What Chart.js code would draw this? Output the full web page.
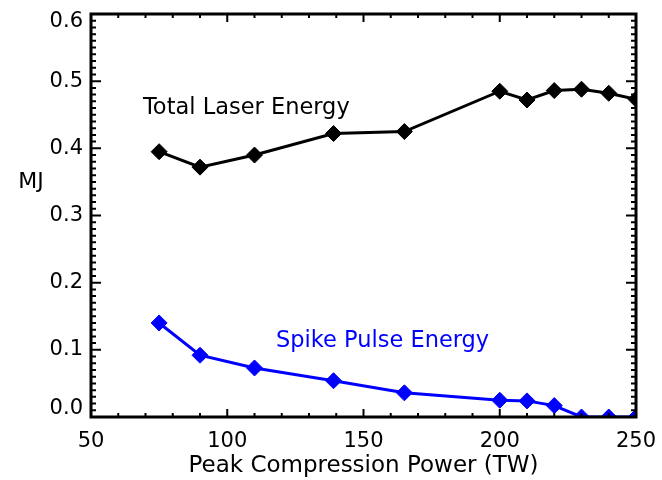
<!DOCTYPE html>
<html>
<head>
<meta charset="utf-8">
<script src="https://cdn.jsdelivr.net/npm/chart.js@4/dist/chart.umd.min.js"></script>
<style>
  html, body { margin: 0; padding: 0; background: #fff; }
  #wrap { width: 662px; height: 480px; }
</style>
</head>
<body>
<div id="wrap"><canvas id="energy-chart"></canvas></div>
<script>
// Peak compression power (TW) and energies (MJ)
const powerTW = [75, 90, 110, 139, 165, 200, 210, 220, 230, 240, 250];
const totalLaserMJ = [0.395, 0.372, 0.390, 0.422, 0.425, 0.485, 0.472, 0.486, 0.488, 0.482, 0.473];
const spikePulseMJ = [0.140, 0.092, 0.073, 0.054, 0.036, 0.025, 0.024, 0.017, 0.0, 0.0, 0.0];

const xTicks = [50, 100, 150, 200, 250];
const yTicks = [0.0, 0.1, 0.2, 0.3, 0.4, 0.5, 0.6];
const yTickLabels = ['0.0', '0.1', '0.2', '0.3', '0.4', '0.5', '0.6'];

const FONT = 'DejaVu Sans, Arial, sans-serif';

// text labels placed in data units
const seriesLabels = [
    { text: 'Total Laser Energy', x: 107, y: 0.46, color: '#000' },
    { text: 'Spike Pulse Energy', x: 157, y: 0.113, color: '#0000ff' }
];

// box frame with inward ticks on all four sides, y labels, and text labels
const frameAndTicks = {
    id: 'frameAndTicks',
    afterDatasetsDraw(chart) {
        const { ctx, chartArea: a } = chart;
        const xs = chart.scales.x, ys = chart.scales.y;
        ctx.save();
        ctx.strokeStyle = '#000';
        ctx.lineWidth = 2;
        ctx.beginPath();
        for (let v = xs.min; v <= xs.max; v += 10) {
            const px = xs.getPixelForValue(v);
            const len = v % 50 === 0 ? 8 : 4;
            ctx.moveTo(px, a.bottom); ctx.lineTo(px, a.bottom - len);
            ctx.moveTo(px, a.top); ctx.lineTo(px, a.top + len);
        }
        for (let i = 0; i <= 60; i++) {
            const py = ys.getPixelForValue(i / 100);
            const len = i % 10 === 0 ? 10 : 5;
            ctx.moveTo(a.left, py); ctx.lineTo(a.left + len, py);
            ctx.moveTo(a.right, py); ctx.lineTo(a.right - len, py);
        }
        ctx.stroke();

        ctx.lineWidth = 3;
        ctx.strokeRect(a.left, a.top, a.right - a.left, a.bottom - a.top);

        // y tick labels, end ones kept inside the axis range
        ctx.fillStyle = '#000';
        ctx.font = '21px ' + FONT;
        ctx.textAlign = 'right';
        ctx.textBaseline = 'middle';
        yTicks.forEach((v, i) => {
            let py = ys.getPixelForValue(v);
            py = Math.min(Math.max(py, a.top + 8), a.bottom - 8);
            ctx.fillText(yTickLabels[i], a.left - 8, py);
        });

        ctx.font = '22px ' + FONT;
        ctx.textAlign = 'center';
        ctx.fillText('MJ', a.left - 60, ys.getPixelForValue(0.35));

        ctx.font = '22.5px ' + FONT;
        seriesLabels.forEach(l => {
            ctx.fillStyle = l.color;
            ctx.fillText(l.text, xs.getPixelForValue(l.x), ys.getPixelForValue(l.y));
        });
        ctx.restore();
    }
};

const ctx = document.getElementById('energy-chart').getContext('2d');

window.energyChart = new Chart(ctx, {
    type: 'line',
    data: {
        datasets: [{
            label: 'Total Laser Energy',
            data: powerTW.map((p, i) => ({ x: p, y: totalLaserMJ[i] })),
            borderColor: '#000',
            backgroundColor: '#000',
            borderWidth: 3,
            pointStyle: 'rectRot',
            pointRadius: 8,
            pointBorderWidth: 1,
            tension: 0
        }, {
            label: 'Spike Pulse Energy',
            data: powerTW.map((p, i) => ({ x: p, y: spikePulseMJ[i] })),
            borderColor: '#0000ff',
            backgroundColor: '#0000ff',
            borderWidth: 3,
            pointStyle: 'rectRot',
            pointRadius: 8,
            pointBorderWidth: 1,
            tension: 0
        }]
    },
    options: {
        responsive: true,
        maintainAspectRatio: false,
        animation: false,
        layout: { padding: { top: 14, right: 26, left: 0, bottom: 0 } },
        plugins: {
            legend: { display: false },
            tooltip: { enabled: false }
        },
        scales: {
            x: {
                type: 'linear',
                min: 50,
                max: 250,
                grid: { display: false, drawTicks: false },
                border: { display: false },
                afterBuildTicks: s => { s.ticks = xTicks.map(v => ({ value: v })); },
                afterFit: s => {
                    s.height = 63;
                    // keep the end labels from pushing the plot inward
                    s.paddingLeft = 0;
                    s.paddingRight = 0;
                },
                ticks: {
                    font: { family: FONT, size: 21 },
                    color: '#000',
                    padding: 12,
                    maxRotation: 0
                },
                title: {
                    display: true,
                    text: 'Peak Compression Power (TW)',
                    font: { family: FONT, size: 23 },
                    color: '#000',
                    padding: { top: 0, bottom: 0 }
                }
            },
            y: {
                type: 'linear',
                min: 0,
                max: 0.6,
                grid: { display: false, drawTicks: false },
                border: { display: false },
                afterBuildTicks: s => { s.ticks = yTicks.map(v => ({ value: v })); },
                afterFit: s => { s.width = 91; },
                ticks: { display: false }
            }
        }
    },
    plugins: [frameAndTicks]
});
</script>
</body>
</html>
